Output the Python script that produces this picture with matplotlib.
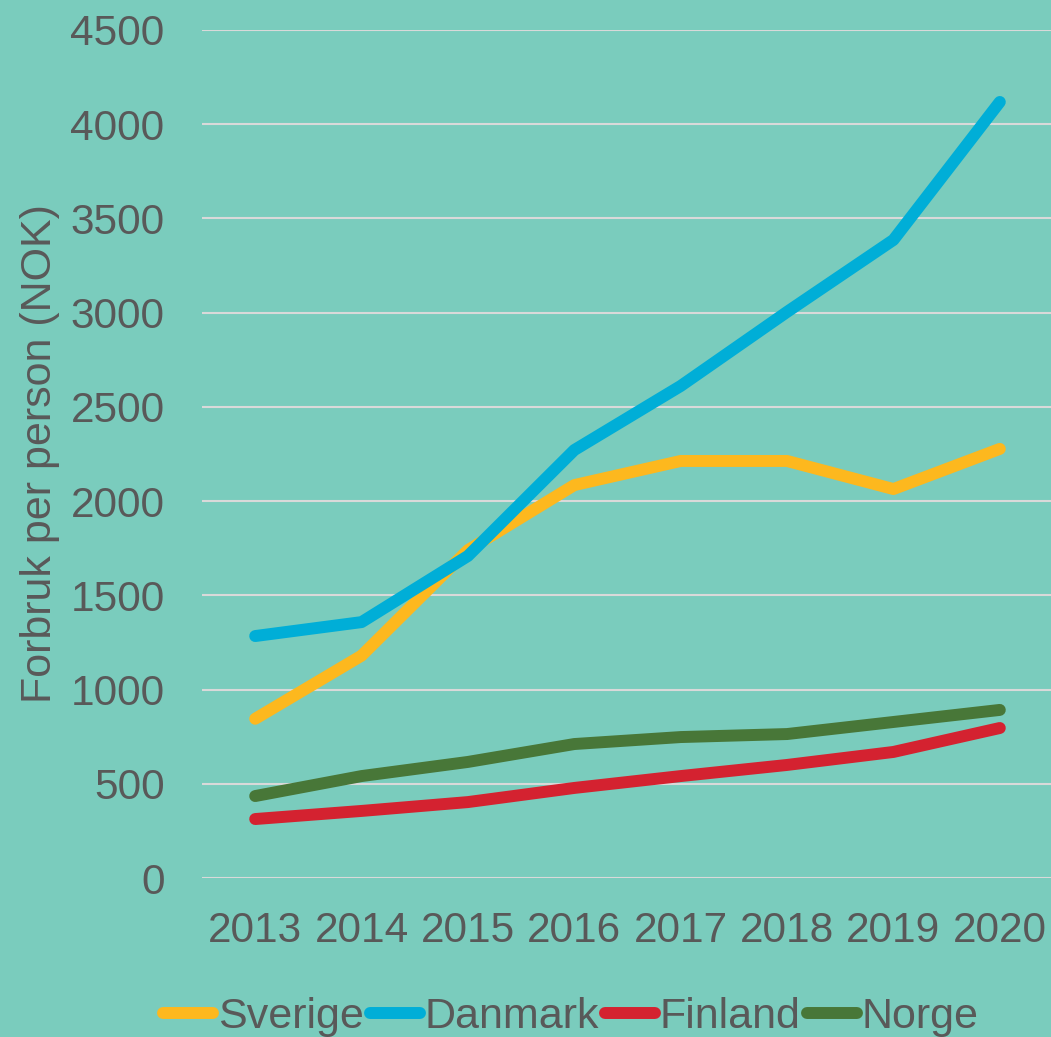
import matplotlib.pyplot as plt
import matplotlib as mpl

mpl.rcParams["font.family"] = ["Liberation Sans", "DejaVu Sans"]

BG = "#7ACCBD"
TEXT = "#595959"

years = ["2013", "2014", "2015", "2016", "2017", "2018", "2019", "2020"]
sverige = [845, 1180, 1740, 2085, 2213, 2213, 2064, 2277]
danmark = [1284, 1358, 1709, 2271, 2611, 3004, 3386, 4118]
finland = [313, 356, 403, 478, 541, 600, 669, 796]
norge = [435, 541, 616, 711, 748, 764, 828, 892]

series = [
	("Sverige", sverige, "#FDB81E"),
	("Danmark", danmark, "#00AED7"),
	("Finland", finland, "#D42230"),
	("Norge", norge, "#487738"),
]

fig = plt.figure(figsize=(10.51, 10.37), dpi=100, facecolor=BG)
ax = fig.add_axes([0.1922, 0.1533, 0.8097, 0.8178], facecolor=BG)

x = list(range(len(years)))
for name, vals, color in series:
	ax.plot(x, vals, color=color, linewidth=8.6, solid_capstyle="round",
		solid_joinstyle="round", label=name)

ax.set_xlim(-0.5, len(years) - 0.5)
ax.set_ylim(0, 4500)
ax.set_yticks(range(0, 4501, 500))
ax.set_xticks(x)
ax.set_xticklabels(years)
ax.grid(axis="y", color="#D9D9D9", linewidth=1.5)
ax.set_axisbelow(True)
for s in ax.spines.values():
	s.set_visible(False)
ax.tick_params(axis="both", length=0, labelsize=30.5, colors=TEXT)
ax.tick_params(axis="y", pad=27)
ax.tick_params(axis="x", pad=24)

fig.text(0.038, 0.5625, "Forbruk per person (NOK)", rotation=90, ha="center",
	va="center", fontsize=31, color=TEXT)

leg = fig.legend(loc="center", bbox_to_anchor=(0.543, 0.019), ncol=4, frameon=False,
	fontsize=31, handlelength=1.16, handletextpad=0.1, columnspacing=0.15,
	borderpad=0)
for t in leg.get_texts():
	t.set_color(TEXT)
for h in leg.get_lines():
	h.set_linewidth(8.6)
	h.set_solid_capstyle("round")

fig.savefig("out.png", dpi=100, facecolor=BG)
